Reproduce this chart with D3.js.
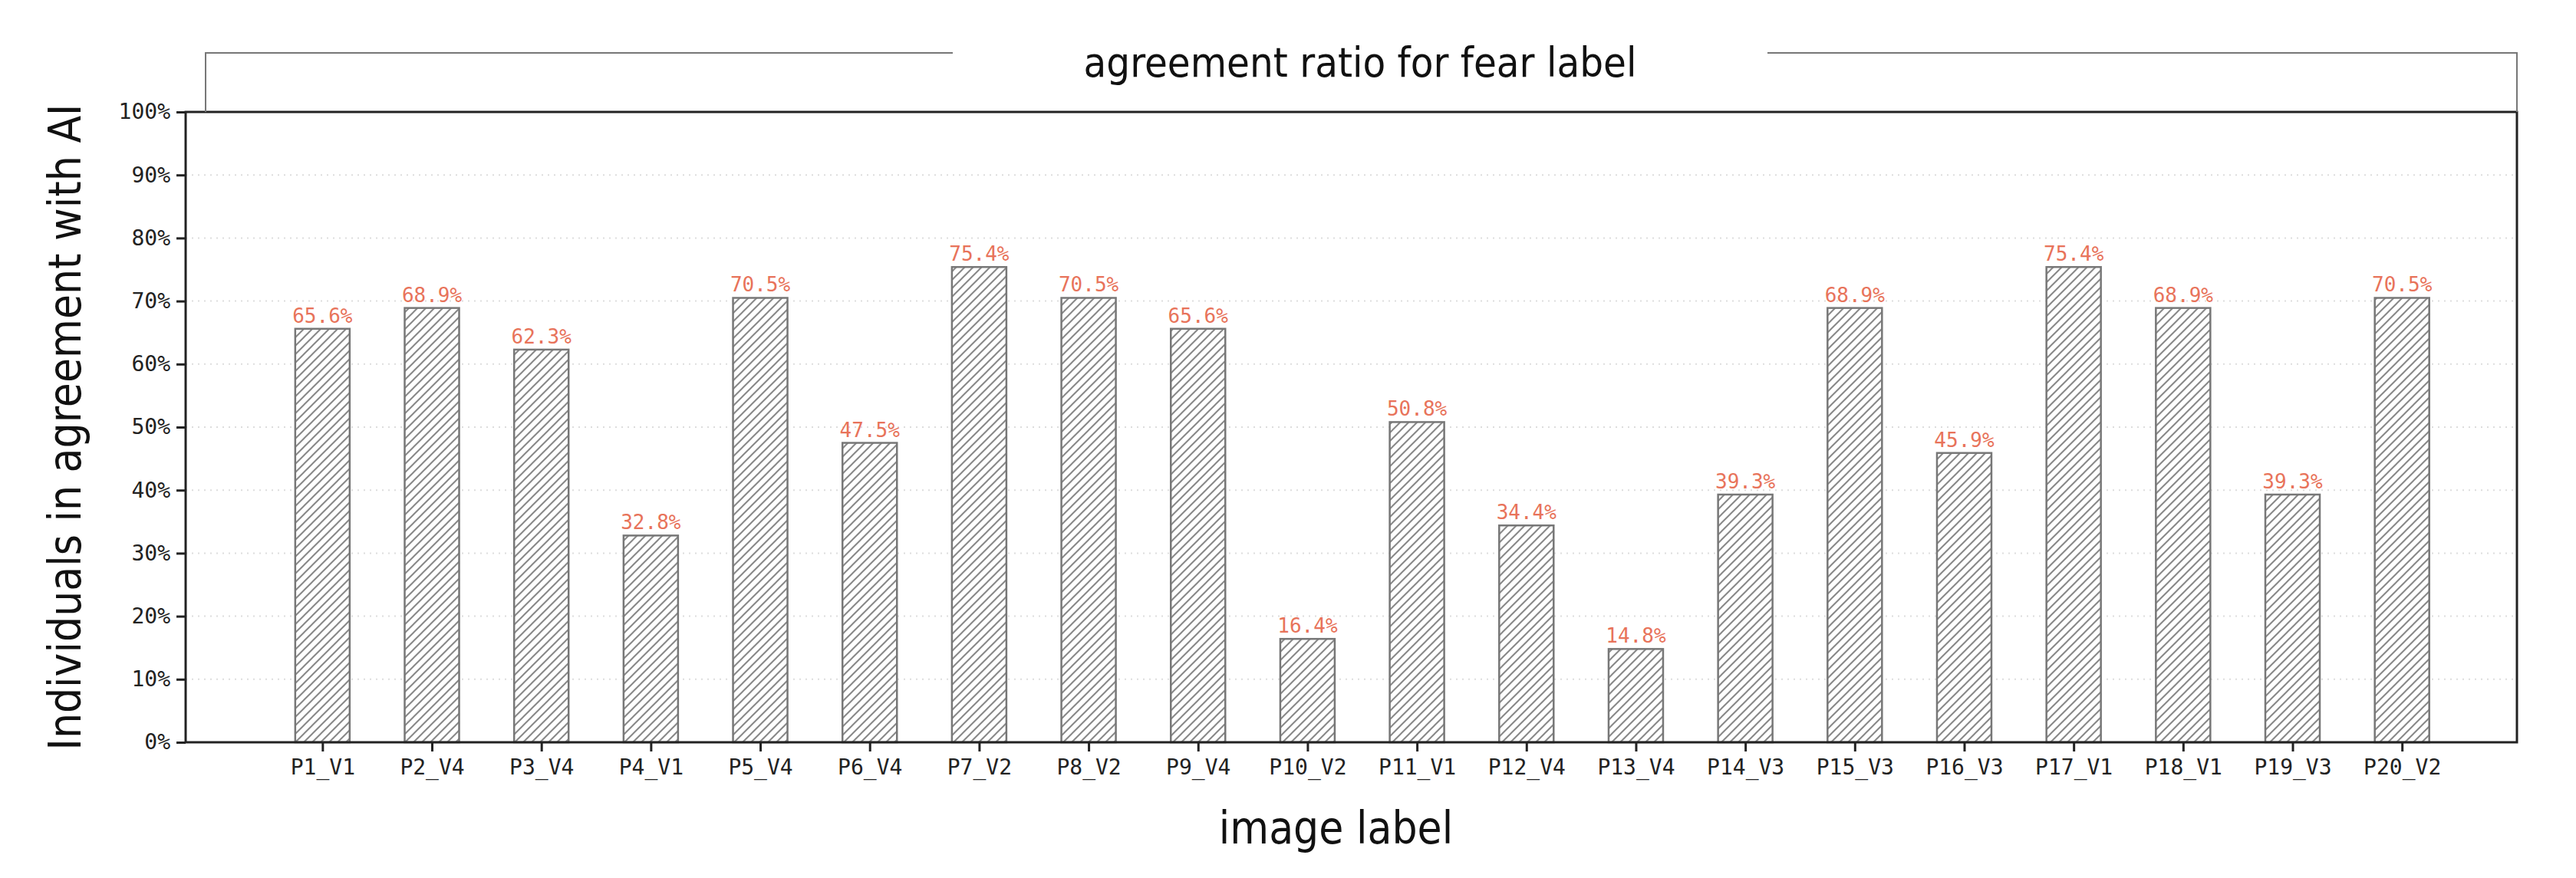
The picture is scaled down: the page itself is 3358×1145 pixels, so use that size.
<!DOCTYPE html>
<html><head><meta charset="utf-8">
<script src="https://cdn.jsdelivr.net/npm/d3@7"></script>
<style>body{margin:0;background:#fff}</style>
</head><body>
<script>
const labels = ["P1_V1","P2_V4","P3_V4","P4_V1","P5_V4","P6_V4","P7_V2","P8_V2","P9_V4","P10_V2","P11_V1","P12_V4","P13_V4","P14_V3","P15_V3","P16_V3","P17_V1","P18_V1","P19_V3","P20_V2"];
const values = [65.6,68.9,62.3,32.8,70.5,47.5,75.4,70.5,65.6,16.4,50.8,34.4,14.8,39.3,68.9,45.9,75.4,68.9,39.3,70.5];
const yTicks = [0,10,20,30,40,50,60,70,80,90,100];

const W = 3358, H = 1145;
const L = 242, R = 3281, T = 146, B = 968;
const condensed = "'Liberation Sans Narrow','DejaVu Sans Condensed','Roboto Condensed',sans-serif";
const mono = "'DejaVu Sans Mono',monospace";

const svg = d3.select("body").append("svg").attr("width", W).attr("height", H);
const defs = svg.append("defs");
const pat = defs.append("pattern").attr("id","hatch").attr("patternUnits","userSpaceOnUse")
  .attr("width", 11).attr("height", 11);
pat.append("rect").attr("width",11).attr("height",11).attr("fill","#fff");
pat.append("path").attr("d","M-2,2 L2,-2 M0,11 L11,0 M9,13 L13,9").attr("stroke","#888").attr("stroke-width",2);

const x = d3.scaleLinear().domain([-1.25, 20.05]).range([L, R]);
const y = d3.scaleLinear().domain([0, 100]).range([B, T]);
const bw = 71;

// grid
svg.append("g").selectAll("line").data(yTicks.filter(d => d > 0 && d < 100)).join("line")
  .attr("x1", L).attr("x2", R).attr("y1", d => y(d)).attr("y2", d => y(d))
  .attr("stroke", "#ddd").attr("stroke-width", 2).attr("stroke-dasharray", "2,6");

// bars
svg.append("g").selectAll("rect").data(values).join("rect")
  .attr("x", (d, i) => x(i) - bw / 2).attr("width", bw)
  .attr("y", d => y(d)).attr("height", d => B - y(d))
  .attr("fill", "url(#hatch)").attr("stroke", "#777").attr("stroke-width", 2.5);

svg.append("g").selectAll("text").data(values).join("text")
  .attr("x", (d, i) => x(i)).attr("y", d => y(d) - 8)
  .attr("text-anchor", "middle").attr("font-family", mono).attr("font-size", 26)
  .attr("fill", "#e8735a").text(d => d.toFixed(1) + "%");

// axes
const yAxis = svg.append("g").attr("transform", `translate(${L},0)`)
  .call(d3.axisLeft(y).tickValues(yTicks).tickFormat(d => d + "%").tickSize(12).tickPadding(8));
const xAxis = svg.append("g").attr("transform", `translate(0,${B})`)
  .call(d3.axisBottom(x).tickValues(d3.range(labels.length)).tickFormat(i => labels[i]).tickSize(12).tickPadding(10));
[yAxis, xAxis].forEach(a => {
  a.select(".domain").remove();
  a.selectAll("line").attr("stroke", "#222").attr("stroke-width", 3);
  a.selectAll("text").attr("font-family", mono).attr("font-size", 28).attr("fill", "#222");
});
svg.append("rect").attr("x", L).attr("y", T).attr("width", R - L).attr("height", B - T)
  .attr("fill", "none").attr("stroke", "#222").attr("stroke-width", 3);

// title bracket
svg.append("path").attr("d", `M268,${T} V69 H1242 M2304,69 H${R} V${T}`)
  .attr("fill", "none").attr("stroke", "#777").attr("stroke-width", 2);
svg.append("text").attr("x", 1773).attr("y", 100).attr("text-anchor", "middle")
  .attr("font-family", condensed).attr("font-size", 54).attr("fill", "#111")
  .text("agreement ratio for fear label");

svg.append("text").attr("x", (L + R) / 2 - 20).attr("y", 1100).attr("text-anchor", "middle")
  .attr("font-family", condensed).attr("font-size", 58).attr("fill", "#111").text("image label");
svg.append("text").attr("transform", `translate(105,${(T + B) / 2}) rotate(-90)`)
  .attr("text-anchor", "middle").attr("font-family", condensed).attr("font-size", 58)
  .attr("fill", "#111").text("Individuals in agreement with AI");
</script>
</body></html>
